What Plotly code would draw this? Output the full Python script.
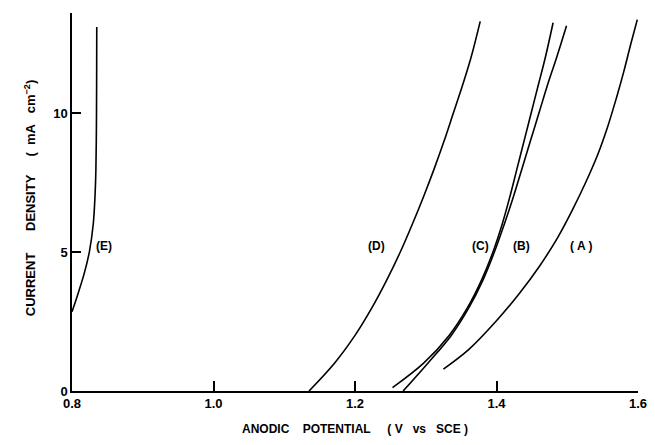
import plotly.graph_objects as go

# Data (anodic potential V vs SCE, current density mA cm^-2)
A_i = [0.79, 1.5, 2.5, 3.5, 4.5, 5.5, 6.5, 7.5, 8.5, 9.5, 10.5, 11.5, 12.5, 13.36]
A_v = [1.325, 1.361, 1.399, 1.432, 1.461, 1.486, 1.507, 1.526, 1.543, 1.557, 1.569, 1.580, 1.590, 1.599]

B_i = [0.0, 1.0, 2.0, 3.0, 4.0, 5.0, 6.0, 7.0, 8.0, 9.0, 10.0, 11.0, 12.0, 13.14]
B_v = [1.268, 1.303, 1.336, 1.361, 1.381, 1.397, 1.411, 1.424, 1.436, 1.448, 1.460, 1.472, 1.485, 1.499]

C_i = [0.12, 1.0, 2.0, 3.0, 4.0, 5.0, 6.0, 7.0, 8.0, 9.0, 10.0, 11.0, 12.0, 13.25]
C_v = [1.253, 1.297, 1.333, 1.359, 1.379, 1.395, 1.408, 1.419, 1.429, 1.439, 1.449, 1.459, 1.469, 1.480]

D_i = [0.0, 1.0, 2.0, 3.0, 4.0, 5.0, 6.0, 7.0, 8.0, 9.0, 10.0, 11.0, 12.0, 13.3]
D_v = [1.135, 1.171, 1.200, 1.224, 1.245, 1.264, 1.281, 1.297, 1.312, 1.326, 1.339, 1.352, 1.364, 1.377]

E_i = [2.85, 3.5, 4.25, 5.0, 6.0, 7.0, 8.0, 9.5, 11.0, 13.1]
E_v = [0.800, 0.8085, 0.8175, 0.8245, 0.8300, 0.8325, 0.8338, 0.8345, 0.8348, 0.8350]

curve_labels = ["( A )", "(B)", "(C)", "(D)", "(E)"]
label_v = [1.520, 1.436, 1.377, 1.230, 0.8455]
label_i = [5.2, 5.2, 5.2, 5.2, 5.2]

x_ticks = [0.8, 1.0, 1.2, 1.4, 1.6]
x_ticktext = ["0.8", "1.0", "1.2", "1.4", "1.6"]
y_ticks = [0, 5, 10]
y_ticktext = ["0", "5", "10"]

FONT = "Liberation Sans"

fig = go.Figure()
for xs, ys in [(A_v, A_i), (B_v, B_i), (C_v, C_i), (D_v, D_i), (E_v, E_i)]:
    fig.add_trace(go.Scatter(x=xs, y=ys, mode="lines",
                             line=dict(color="black", width=1.6, shape="spline", smoothing=1.0),
                             showlegend=False, hoverinfo="skip"))

for t, xv, yv in zip(curve_labels, label_v, label_i):
    fig.add_annotation(x=xv, y=yv, text=t, showarrow=False,
                       font=dict(family=FONT, size=12, color="black", weight="bold"))

fig.add_annotation(xref="paper", yref="paper", x=0.5, y=0, yshift=-47,
                   text="ANODIC&nbsp;&nbsp;&nbsp;&nbsp;POTENTIAL&nbsp;&nbsp;&nbsp;&nbsp;&nbsp;(&nbsp;V&nbsp;&nbsp;&nbsp;vs&nbsp;&nbsp;&nbsp;SCE&nbsp;)",
                   showarrow=False, font=dict(family=FONT, size=12, color="black", weight="bold"))
fig.add_annotation(xref="paper", yref="paper", x=0, y=0.51, xshift=-52,
                   text="CURRENT&nbsp;&nbsp;&nbsp;&nbsp;&nbsp;&nbsp;DENSITY&nbsp;&nbsp;&nbsp;&nbsp;&nbsp;(&nbsp;&nbsp;mA&nbsp;&nbsp;&nbsp;cm<sup>−2</sup>)",
                   textangle=-90, showarrow=False, font=dict(family=FONT, size=13, color="black", weight="bold"))

fig.update_layout(
    width=655, height=445,
    margin=dict(l=72, r=8, t=13, b=54),
    plot_bgcolor="white", paper_bgcolor="white",
    font=dict(family=FONT, size=13, color="black"),
)
fig.update_xaxes(range=[0.8, 1.6], tickvals=x_ticks, ticktext=x_ticktext,
                 ticks="inside", ticklen=10, tickwidth=1.5, tickcolor="black",
                 ticklabeloverflow="allow",
                 tickfont=dict(family=FONT, size=13, color="black", weight="bold"),
                 showline=True, linecolor="black", linewidth=1.5,
                 showgrid=False, zeroline=False)
fig.update_yaxes(range=[0, 13.6], tickvals=y_ticks, ticktext=y_ticktext,
                 ticks="inside", ticklen=9, tickwidth=1.5, tickcolor="black",
                 tickfont=dict(family=FONT, size=13, color="black", weight="bold"),
                 showline=True, linecolor="black", linewidth=1.5,
                 showgrid=False, zeroline=False)

fig.write_html("out.html")
